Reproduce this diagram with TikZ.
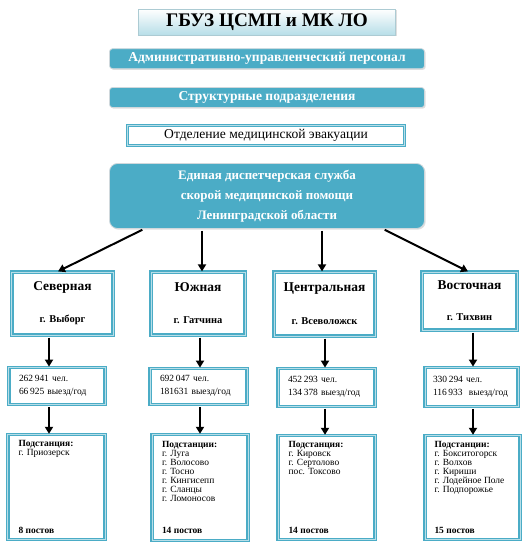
\documentclass[tikz,border=0pt]{standalone}
\usepackage{fontspec}
\setmainfont{Liberation Serif}
\usetikzlibrary{arrows.meta,positioning,shadows}

\definecolor{sea}{HTML}{4BACC6}
\definecolor{frost}{HTML}{B7DEE8}
\definecolor{rim}{HTML}{D0D8DC}

\newcommand{\stationlist}[3]{\parbox[c][93bp][t]{76bp}{\textbf{#1}\\#2\par\vfill\textbf{#3}}}

\begin{document}
\begin{tikzpicture}[x=1bp,y=-1bp,>={Triangle[length=7bp,width=8bp]},
    arr/.style={->,line width=2bp,shorten <=2bp},
    band/.style={fill=sea,draw=rim,line width=0.8bp,rounded corners=3bp,
      text=white,inner sep=0pt,minimum width=315bp,minimum height=20bp,
      font=\bfseries\fontsize{13.6}{15}\selectfont,
      drop shadow={opacity=0.25,shadow xshift=1.2bp,shadow yshift=-1.2bp}},
    frame/.style={draw=sea,double=frost,double distance=1bp,line width=1.2bp,
      fill=white,inner sep=0pt},
    branch/.style={frame,align=center,font=\bfseries\fontsize{13.5}{15}\selectfont},
    stats/.style={frame,align=left,inner xsep=10bp,font=\fontsize{9.5}{13}\selectfont},
    substation/.style={frame,font=\fontsize{9.5}{9.1}\selectfont}]

  \useasboundingbox (0,0) rectangle (527,545);

  % top of the chart
  \node[top color=white,bottom color=frost,draw=frost!80!gray,line width=0.6bp,
        minimum width=257bp,minimum height=26bp,inner sep=0pt,
        font=\bfseries\fontsize{19.3}{21}\selectfont,
        drop shadow={opacity=0.25,shadow xshift=1.2bp,shadow yshift=-1.2bp}]
        (title) at (267,22) {ГБУЗ ЦСМП и МК ЛО};
  \node[band] (staff)  [below=13bp of title] {Административно-управленческий персонал};
  \node[band] (units)  [below=18bp of staff]  {Структурные подразделения};
  \node[frame,minimum width=277bp,minimum height=20bp,
        font=\fontsize{13.6}{15}\selectfont]
        (evac) [below=17bp of units,xshift=-1bp] {Отделение медицинской эвакуации};
  \node[band,rounded corners=8bp,minimum height=65bp,align=center,
        font=\bfseries\fontsize{13}{20}\selectfont]
        (eds) [below=17bp of evac,xshift=1bp]
        {Единая диспетчерская служба\\скорой медицинской помощи\\Ленинградской области};

  % branches
  \node[branch,minimum width=101bp,minimum height=63bp] (sev) at (62.5,303.5)
        {Северная\\[17bp]{\fontsize{10.5}{11}\selectfont г. Выборг}};
  \node[branch,minimum width=94bp,minimum height=63bp]  (yug) at (198,303.5)
        {Южная\\[17bp]{\fontsize{10.5}{11}\selectfont г. Гатчина}};
  \node[branch,minimum width=101bp,minimum height=64bp] (cen) at (324.5,304)
        {Центральная\\[18bp]{\fontsize{10.5}{11}\selectfont г. Всеволожск}};
  \node[branch,minimum width=95bp,minimum height=58bp]  (vos) at (469.5,301)
        {Восточная\\[16bp]{\fontsize{10.5}{11}\selectfont г. Тихвин}};

  % population and calls
  \node[stats,text width=76bp,minimum height=37bp] (sevst) [below=31bp of sev,xshift=-5.5bp]
        {262\,941 чел.\\66\,925 выезд/год};
  \node[stats,text width=77bp,minimum height=36bp] (yugst) [below=32bp of yug,xshift=0.5bp]
        {692\,047 чел.\\181631 выезд/год};
  \node[stats,text width=77bp,minimum height=38bp] (censt) [below=31bp of cen,xshift=2bp]
        {452\,293 чел.\\134\,378 выезд/год};
  \node[stats,inner xsep=8bp,text width=77bp,minimum height=39bp] (vosst) [below=36bp of vos,xshift=2bp]
        {330\,294 чел.\\116\,933 \ выезд/год};

  % substations
  \node[substation,minimum width=97bp,minimum height=105bp] (sevsub) [below=29bp of sevst,xshift=-0.5bp]
        {\stationlist{Подстанция:}{г. Приозерск}{8 постов}};
  \node[substation,minimum width=96bp,minimum height=106bp] (yugsub) [below=29bp of yugst,xshift=1.5bp]
        {\stationlist{Подстанции:}{г. Луга\\г. Волосово\\г. Тосно\\г. Кингисепп\\г. Сланцы\\г. Ломоносов}{14 постов}};
  \node[substation,minimum width=97bp,minimum height=104bp] (censub) [below=28bp of censt]
        {\stationlist{Подстанция:}{г. Кировск\\г. Сертолово\\пос. Токсово}{14 постов}};
  \node[substation,minimum width=95bp,minimum height=104bp] (vossub) [below=28bp of vosst,xshift=1bp]
        {\stationlist{Подстанции:}{г. Бокситогорск\\г. Волхов\\г. Кириши\\г. Лодейное Поле\\г. Подпорожье}{15 постов}};

  % arrows
  \draw[arr] ([xshift=35bp]eds.south west) -- ([xshift=-4.5bp]sev.north);
  \draw[arr] ([xshift=4bp]yug.north |- eds.south) -- ([xshift=4bp]yug.north);
  \draw[arr] ([xshift=-2.5bp]cen.north |- eds.south) -- ([xshift=-2.5bp]cen.north);
  \draw[arr] ([xshift=-42bp]eds.south east) -- ([xshift=-1.5bp]vos.north);

  \draw[arr] ([xshift=-8bp]sevst.north |- sev.south) -- ([xshift=-8bp]sevst.north);
  \draw[arr] ([xshift=1.5bp]yugst.north |- yug.south) -- ([xshift=1.5bp]yugst.north);
  \draw[arr] ([xshift=-1.5bp]censt.north |- cen.south) -- ([xshift=-1.5bp]censt.north);
  \draw[arr] ([xshift=1.5bp]vosst.north |- vos.south) -- ([xshift=1.5bp]vosst.north);

  \draw[arr] ([xshift=-7.5bp]sevsub.north |- sevst.south) -- ([xshift=-7.5bp]sevsub.north);
  \draw[arr] (yugsub.north |- yugst.south) -- (yugsub.north);
  \draw[arr] ([xshift=-1.5bp]censub.north |- censt.south) -- ([xshift=-1.5bp]censub.north);
  \draw[arr] ([xshift=0.5bp]vossub.north |- vosst.south) -- ([xshift=0.5bp]vossub.north);
\end{tikzpicture}
\end{document}
